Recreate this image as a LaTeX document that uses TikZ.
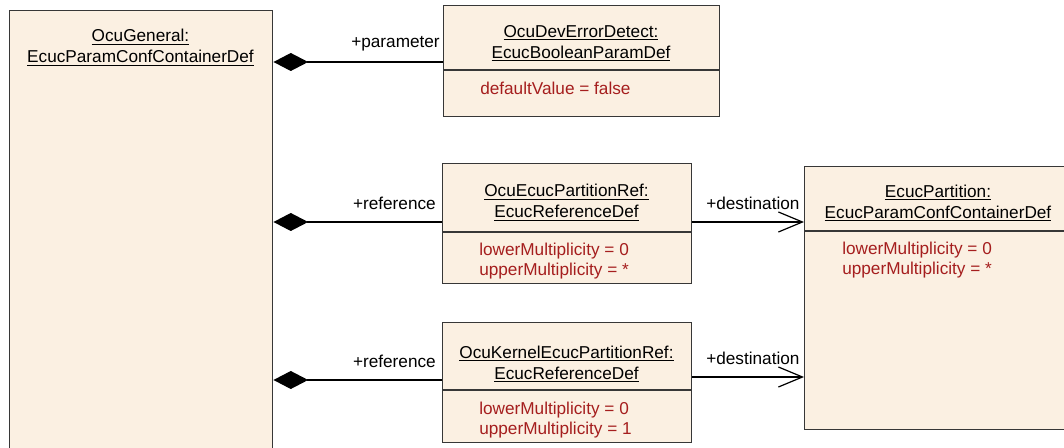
\documentclass[tikz,border=0pt]{standalone}
\usepackage{fontspec}
\setmainfont{Liberation Sans}
\usetikzlibrary{arrows.meta}
\definecolor{boxfill}{RGB}{251,240,226}
\definecolor{boxline}{RGB}{55,55,55}
\definecolor{attr}{RGB}{165,30,30}
\tikzset{
  umlbox/.style={draw=boxline, fill=boxfill, line width=1.1pt, rectangle, anchor=north west, inner sep=0pt},
  title/.style={inner sep=0pt, align=center, font=\fontsize{12.9}{15.75}\selectfont},
  attrs/.style={inner sep=0pt, align=left, anchor=west, text=attr, font=\fontsize{12.9}{15}\selectfont},
  role/.style={inner sep=0pt, font=\fontsize{12.9}{15.75}\selectfont},
  compose/.style={line width=0.9pt, {Diamond[length=26pt,width=13.5pt]}-},
  navig/.style={line width=0.9pt, -{Straight Barb[length=18pt,width=15pt,line width=0.9pt]}},
  divider/.style={draw=boxline, line width=1.1pt}
}
\begin{document}
\begin{tikzpicture}[x=0.75pt,y=-0.75pt]
\useasboundingbox[fill=white] (0,0) rectangle (1064,448);
% boxes
\node[umlbox, minimum width=263*0.75pt, minimum height=455*0.75pt] (gen) at (9,10) {};
\node[umlbox, minimum width=276*0.75pt, minimum height=111*0.75pt] (dev) at (443,5) {};
\node[umlbox, minimum width=249*0.75pt, minimum height=120*0.75pt] (ref) at (442,163) {};
\node[umlbox, minimum width=249*0.75pt, minimum height=120*0.75pt] (kref) at (442,322) {};
\node[umlbox, minimum width=270*0.75pt, minimum height=263*0.75pt] (part) at (804,166) {};
% dividers
\coordinate (devd) at (443,70);
\coordinate (refd) at (442,232);
\coordinate (krefd) at (442,390);
\coordinate (partd) at (804,231);
\draw[divider] (devd) -- (devd -| dev.east);
\draw[divider] (refd) -- (refd -| ref.east);
\draw[divider] (krefd) -- (krefd -| kref.east);
\draw[divider] (partd) -- (partd -| part.east);
% titles
\node[title] (gent) at (140.5,47.5) {\underline{OcuGeneral:}\\\underline{EcucParamConfContainerDef}};
\node[title] (devt) at (581,43.5) {\underline{OcuDevErrorDetect:}\\\underline{EcucBooleanParamDef}};
\node[title] (reft) at (566.5,202.5) {\underline{OcuEcucPartitionRef:}\\\underline{EcucReferenceDef}};
\node[title] (kreft) at (566.5,364) {\underline{OcuKernelEcucPartitionRef:}\\\underline{EcucReferenceDef}};
\node[title] (partt) at (938,203) {\underline{EcucPartition:}\\\underline{EcucParamConfContainerDef}};
% attributes
\node[attrs] (deva) at (480,88) {defaultValue = false};
\node[attrs] (refa) at (479,261) {lowerMultiplicity = 0\\upperMultiplicity = *};
\node[attrs] (krefa) at (479,420.5) {lowerMultiplicity = 0\\upperMultiplicity = 1};
\node[attrs] (parta) at (842,260) {lowerMultiplicity = 0\\upperMultiplicity = *};
% connector anchor coordinates
\coordinate (c1) at (272,62);
\coordinate (c2) at (272,222);
\coordinate (c3) at (272,380);
\coordinate (d1) at (691,222);
\coordinate (d2) at (691,377);
\draw[compose] (gen.east |- c1) -- (dev.west |- c1);
\draw[compose] (gen.east |- c2) -- (ref.west |- c2);
\draw[compose] (gen.east |- c3) -- (kref.west |- c3);
\draw[navig] (ref.east |- d1) -- (part.west |- d1);
\draw[navig] (kref.east |- d2) -- (part.west |- d2);
% role labels
\node[role, anchor=east] (l1) at (440,43.5) {+parameter};
\node[role, anchor=east] (l2) at (436,203) {+reference};
\node[role, anchor=east] (l3) at (436,361) {+reference};
\node[role, anchor=west] (l4) at (706,203.5) {+destination};
\node[role, anchor=west] (l5) at (706,358.5) {+destination};
\end{tikzpicture}
\end{document}
